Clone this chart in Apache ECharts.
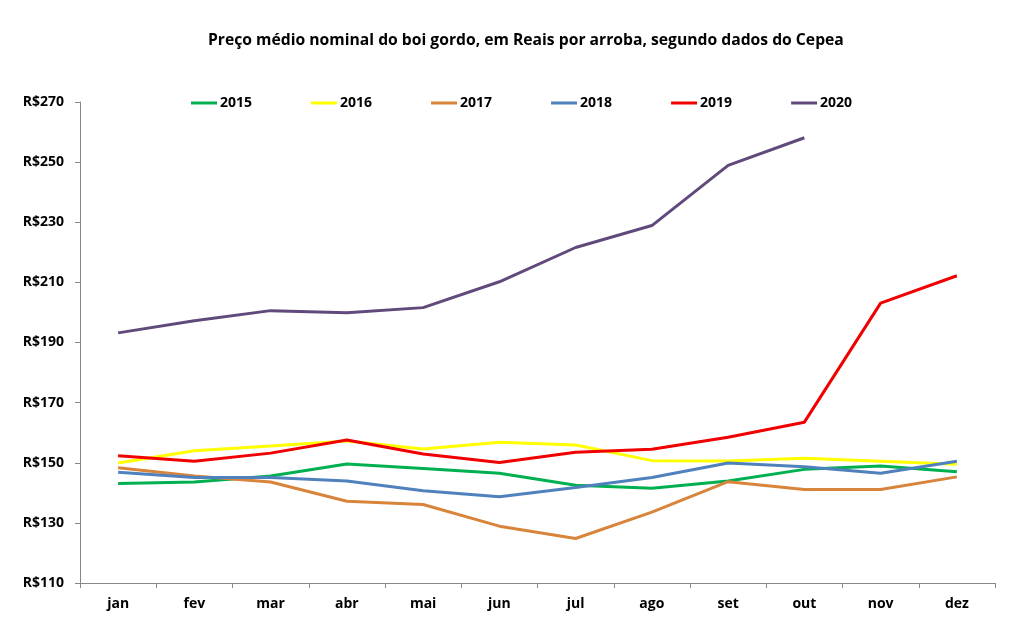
<!DOCTYPE html>
<html>
<head>
<meta charset="utf-8">
<script src="https://cdn.jsdelivr.net/npm/echarts@6/dist/echarts.min.js"></script>
<style>html,body{margin:0;padding:0;background:#fff}#c{width:1013px;height:631px}</style>
</head>
<body>
<div id="c"></div>
<script>
const months = ['jan','fev','mar','abr','mai','jun','jul','ago','set','out','nov','dez'];
const years = ['2015','2016','2017','2018','2019','2020'];
const s2015 = [143.1,143.6,145.6,149.6,148.1,146.5,142.5,141.5,143.9,147.8,148.9,147.0];
const s2016 = [149.9,154.0,155.6,157.2,154.6,156.8,155.9,150.7,150.6,151.5,150.5,149.5];
const s2017 = [148.3,145.6,143.6,137.2,136.1,128.9,124.8,133.6,143.7,141.1,141.1,145.3];
const s2018 = [146.8,145.1,145.1,143.9,140.7,138.7,141.8,145.1,149.9,148.7,146.5,150.5];
const s2019 = [152.3,150.5,153.2,157.6,152.9,150.1,153.5,154.5,158.5,163.5,203.1,212.2];
const s2020 = [193.2,197.2,200.6,199.9,201.6,210.2,221.6,228.9,248.9,258.1,null,null];
const yTicks = {min:110, max:270, interval:20};
const colors = ['#00B050','#FFFF00','#D9843B','#4F81BD','#F00000','#604A7B'];
const seriesData = [s2015,s2016,s2017,s2018,s2019,s2020];

const font = '"Open Sans", "DejaVu Sans", sans-serif';
const chart = echarts.init(document.getElementById('c'), null, {renderer:'canvas'});
chart.setOption({
  animation:false,
  backgroundColor:'#fff',
  title:{
    text:'Preço médio nominal do boi gordo, em Reais por arroba, segundo dados do Cepea',
    left:203, top:28,
    textStyle:{fontFamily:font, fontWeight:'bold', fontSize:15.7, color:'#000'}
  },
  legend:{
    data:years, left:186, top:91, itemWidth:26, itemHeight:3, itemGap:59, icon:'rect',
    textStyle:{fontFamily:font, fontWeight:'bold', fontSize:14, color:'#000', padding:[0,0,0,-2]}
  },
  grid:{left:80, right:18, top:102, bottom:48, containLabel:false},
  xAxis:{
    type:'category', data:months, boundaryGap:true,
    axisLine:{lineStyle:{color:'#888', width:1}},
    axisTick:{show:true, length:5, lineStyle:{color:'#888'}, alignWithLabel:false},
    axisLabel:{fontFamily:font, fontWeight:'bold', fontSize:14, color:'#000', margin:14}
  },
  yAxis:{
    type:'value', min:yTicks.min, max:yTicks.max, interval:yTicks.interval,
    axisLine:{show:true, lineStyle:{color:'#888', width:1}},
    axisTick:{show:true, length:5, lineStyle:{color:'#888'}},
    splitLine:{show:false},
    axisLabel:{fontFamily:font, fontWeight:'bold', fontSize:14, color:'#000', margin:16,
      formatter:v=>'R$'+v}
  },
  series: years.map((y,i)=>({
    name:y, type:'line', data:seriesData[i], symbol:'none', showSymbol:false,
    lineStyle:{color:colors[i], width:3}, itemStyle:{color:colors[i]},
    connectNulls:false
  }))
});
</script>
</body>
</html>
